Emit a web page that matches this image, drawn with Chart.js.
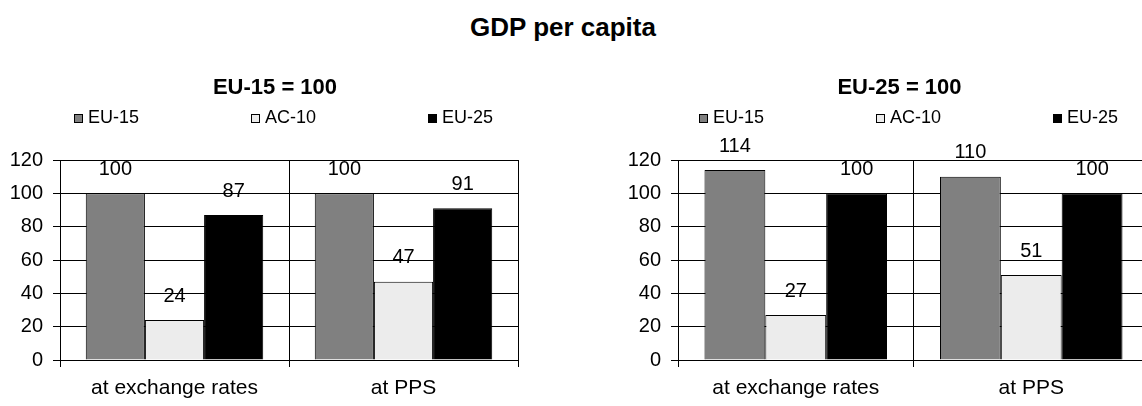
<!DOCTYPE html>
<html>
<head>
<meta charset="utf-8">
<script src="https://cdn.jsdelivr.net/npm/chart.js@4.4.1/dist/chart.umd.min.js"></script>
<style>
  html, body { margin: 0; padding: 0; background: #fff; overflow: hidden; width: 1142px; height: 406px; }
  #main { position: absolute; left: 0; top: 12px; width: 1126px; text-align: center;
          font: bold 26px/30px "Liberation Sans", Arial, sans-serif; color: #000; }
  canvas { position: absolute; top: 0; }
</style>
</head>
<body>
<div id="main">GDP per capita</div>
<canvas id="leftChart" width="560" height="406" style="left:0"></canvas>
<canvas id="rightChart" width="580" height="406" style="left:580px"></canvas>
<script>
// Categories and series
const categories = ['at exchange rates', 'at PPS'];
const seriesNames = ['EU-15', 'AC-10', 'EU-25'];
const seriesColors = ['#808080', '#ececec', '#000000'];

// Index with EU-15 = 100
const baseEU15_EU15 = [100, 100];
const baseEU15_AC10 = [24, 47];
const baseEU15_EU25 = [87, 91];

// Index with EU-25 = 100
const baseEU25_EU15 = [114, 110];
const baseEU25_AC10 = [27, 51];
const baseEU25_EU25 = [100, 100];

// Value axis ticks
const yTicks = [0, 20, 40, 60, 80, 100, 120];

const FONT = '"Liberation Sans", Arial, sans-serif';
Chart.defaults.font.family = FONT;
Chart.defaults.color = '#000';

// Let tick labels extend past the narrow axis box
const freeTickLabels = {
  id: 'freeTickLabels',
  beforeDraw(chart) {
    Object.values(chart.scales).forEach(s => { s._computeLabelArea = () => undefined; });
  }
};

// Legend laid out with fixed spacing between entries
const spreadLegend = {
  id: 'spreadLegend',
  afterDraw(chart, args, opts) {
    const ctx = chart.ctx;
    const { left, right } = chart.chartArea;
    const items = chart.data.datasets;
    ctx.save();
    ctx.font = opts.fontSize + 'px ' + FONT;
    const lastW = opts.box + opts.gap + ctx.measureText(items[items.length - 1].label).width;
    const total = (items.length - 1) * opts.spacing + lastW;
    const x0 = (left + right) / 2 + opts.shift - total / 2;
    items.forEach((ds, i) => {
      const bx = Math.round(x0 + i * opts.spacing);
      const by = Math.round(opts.y - opts.box / 2);
      ctx.fillStyle = ds.backgroundColor;
      ctx.fillRect(bx, by, opts.box, opts.box);
      ctx.strokeStyle = '#000';
      ctx.lineWidth = 1;
      ctx.strokeRect(bx + 0.5, by + 0.5, opts.box - 1, opts.box - 1);
      ctx.fillStyle = '#000';
      ctx.textAlign = 'left';
      ctx.textBaseline = 'middle';
      ctx.fillText(ds.label, bx + opts.box + opts.gap, opts.y);
    });
    ctx.restore();
  }
};

// Value labels above each bar
const barValues = {
  id: 'barValues',
  afterDatasetsDraw(chart, args, opts) {
    const ctx = chart.ctx;
    ctx.save();
    ctx.font = opts.fontSize + 'px ' + FONT;
    ctx.fillStyle = '#000';
    ctx.textAlign = 'center';
    ctx.textBaseline = 'middle';
    chart.data.datasets.forEach((ds, i) => {
      chart.getDatasetMeta(i).data.forEach((bar, j) => {
        ctx.fillText(String(ds.data[j]), bar.x, bar.y - opts.offset);
      });
    });
    ctx.restore();
  }
};

function makeChart(id, title, series, padLeft, padRight) {
  return new Chart(document.getElementById(id), {
    type: 'bar',
    data: {
      labels: categories,
      datasets: series.map((values, i) => ({
        label: seriesNames[i],
        data: values,
        backgroundColor: seriesColors[i],
        borderColor: '#000',
        borderWidth: 1,
        categoryPercentage: 0.775,
        barPercentage: 1
      }))
    },
    options: {
      responsive: false,
      animation: false,
      devicePixelRatio: 1,
      layout: { padding: { left: padLeft, right: padRight, top: 0, bottom: 0 } },
      plugins: {
        legend: { display: false },
        tooltip: { enabled: false },
        title: {
          display: true,
          text: title,
          color: '#000',
          font: { size: 22, weight: 'bold' },
          padding: { top: 75, bottom: 58.6 }
        },
        spreadLegend: { y: 118, spacing: 177, shift: -5, box: 9, gap: 5, fontSize: 18 },
        barValues: { offset: 24, fontSize: 20 }
      },
      scales: {
        x: {
          grid: { color: '#000', lineWidth: 1, offset: true, tickLength: 7, tickColor: '#000' },
          border: { color: '#000', width: 1 },
          ticks: { color: '#000', font: { size: 21 }, padding: 9, maxRotation: 0, autoSkip: false },
          afterFit: s => { s.height = 46; }
        },
        y: {
          min: yTicks[0],
          max: yTicks[yTicks.length - 1],
          ticks: { stepSize: yTicks[1] - yTicks[0], color: '#000', font: { size: 20 }, padding: 10 },
          grid: { color: '#000', lineWidth: 1, tickLength: 7, tickColor: '#000' },
          border: { color: '#000', width: 1 },
          afterFit: s => { s.width = 28; }
        }
      }
    },
    plugins: [freeTickLabels, spreadLegend, barValues]
  });
}

makeChart('leftChart', 'EU-15 = 100', [baseEU15_EU15, baseEU15_AC10, baseEU15_EU25], 32, 42);
makeChart('rightChart', 'EU-25 = 100', [baseEU25_EU15, baseEU25_AC10, baseEU25_EU25], 70, 11);
</script>
</body>
</html>
